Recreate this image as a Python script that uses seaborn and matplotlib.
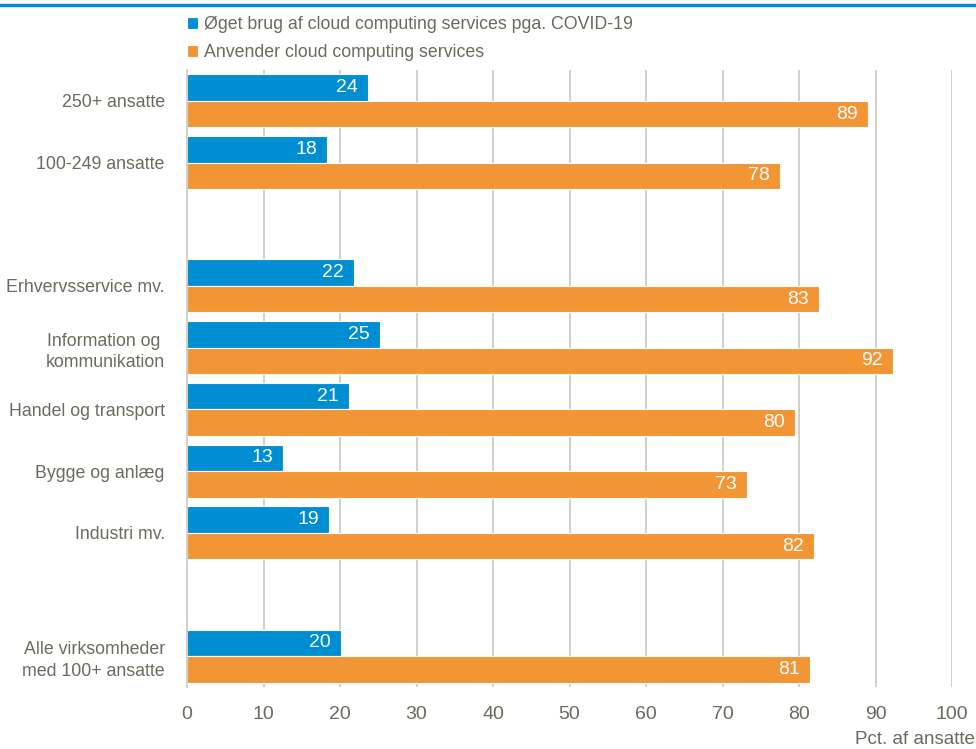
import matplotlib
matplotlib.use("Agg")
import matplotlib.pyplot as plt
import seaborn as sns
import pandas as pd

categories = ["250+ ansatte", "100-249 ansatte", " ",
              "Erhvervsservice mv.", "Information og \nkommunikation",
              "Handel og transport", "Bygge og anlæg", "Industri mv.", "  ",
              "Alle virksomheder\nmed 100+ ansatte"]
data_categories = ["250+ ansatte", "100-249 ansatte",
                   "Erhvervsservice mv.", "Information og \nkommunikation",
                   "Handel og transport", "Bygge og anlæg", "Industri mv.",
                   "Alle virksomheder\nmed 100+ ansatte"]
series_names = ["Øget brug af cloud computing services pga. COVID-19",
                "Anvender cloud computing services"]
covid_values = [23.6, 18.3, 21.8, 25.2, 21.2, 12.6, 18.6, 20.1]
cloud_values = [89.0, 77.5, 82.6, 92.3, 79.5, 73.2, 82.0, 81.4]
xticks = [0, 10, 20, 30, 40, 50, 60, 70, 80, 90, 100]

BLUE = "#008ED3"
ORANGE = "#F29534"
TEXT = "#6B6A5E"
GRID = "#C9C8BF"

df = pd.DataFrame({
    "cat": data_categories * 2,
    "series": [series_names[0]] * len(data_categories) + [series_names[1]] * len(data_categories),
    "value": covid_values + cloud_values,
})

sns.set_style("white")
plt.rcParams["font.family"] = ["Liberation Sans", "DejaVu Sans"]

fig = plt.figure(figsize=(9.76, 7.49), dpi=100)
ax = fig.add_axes([187 / 976, 1 - 687 / 749, 765 / 976, 617 / 749])

sns.barplot(data=df, y="cat", x="value", hue="series", order=categories,
            hue_order=series_names, palette=[BLUE, ORANGE], saturation=1,
            orient="h", width=0.86, ax=ax, edgecolor="white", linewidth=0.8,
            zorder=3)

ax.set_xlim(0, 100)
ax.set_ylim(len(categories) - 0.5, -0.5)
ax.set_xticks(xticks)
ax.set_xticklabels([str(t) for t in xticks], fontsize=14, color=TEXT)
ax.tick_params(axis="x", length=0, pad=14)
ax.tick_params(axis="y", length=0, pad=16)
for lab in ax.get_yticklabels():
    lab.set_fontsize(12.8)
    lab.set_color(TEXT)
    lab.set_horizontalalignment("right")
    lab.set_multialignment("right")
    lab.set_linespacing(1.35)

for t in xticks[1:]:
    ax.axvline(t, color=GRID, linewidth=1.2, zorder=1)

for s in ["top", "right", "bottom"]:
    ax.spines[s].set_visible(False)
ax.spines["left"].set_color(GRID)
ax.spines["left"].set_linewidth(1.2)
ax.spines["left"].set_zorder(4)
ax.set_xlabel("")
ax.set_ylabel("")

for cont in ax.containers:
    for bar in cont:
        w = bar.get_width()
        if w != w or w == 0:
            continue
        ax.text(w - 1.3, bar.get_y() + bar.get_height() / 2, f"{round(w):d}",
                ha="right", va="center", color="white", fontsize=14, zorder=5)

leg = ax.legend(loc="lower left", bbox_to_anchor=(-0.012, 1.0), frameon=False,
                fontsize=12.8, handlelength=0.65, handleheight=0.65,
                handletextpad=0.35, labelspacing=0.6, borderaxespad=0.1)
for txt in leg.get_texts():
    txt.set_color(TEXT)

fig.text(975 / 976, 1 - 740 / 749, "Pct. af ansatte", ha="right", va="center",
         fontsize=13.5, color=TEXT)

fig.add_artist(plt.Line2D([0, 1], [1 - 5 / 749, 1 - 5 / 749], color=BLUE,
                          linewidth=2.5, transform=fig.transFigure))

fig.savefig("out.png", dpi=100)
